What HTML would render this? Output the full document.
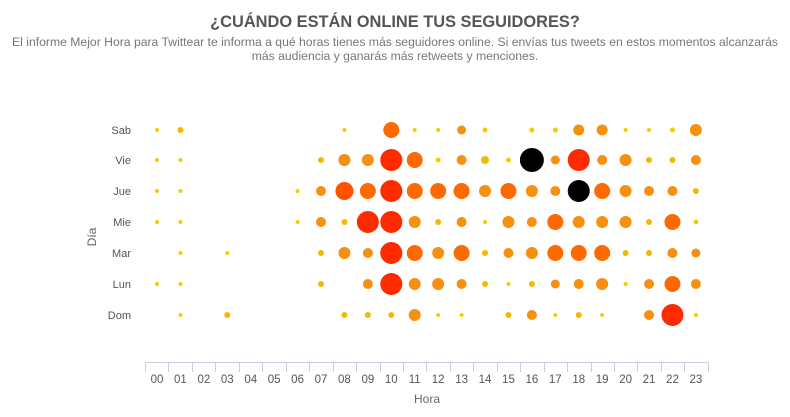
<!DOCTYPE html>
<html><head><meta charset="utf-8"><style>
body{margin:0;background:#fff;width:790px;height:412px;overflow:hidden;font-family:"Liberation Sans",sans-serif}
</style></head><body>
<svg width="790" height="412" xmlns="http://www.w3.org/2000/svg" font-family="Liberation Sans, sans-serif">
<text x="395" y="27" text-anchor="middle" font-size="16.4" font-weight="bold" fill="#555">¿CUÁNDO ESTÁN ONLINE TUS SEGUIDORES?</text>
<text x="395" y="46" text-anchor="middle" font-size="12.2" fill="#777">El informe Mejor Hora para Twittear te informa a qué horas tienes más seguidores online. Si envías tus tweets en estos momentos alcanzarás</text>
<text x="395" y="60" text-anchor="middle" font-size="12.2" fill="#777">más audiencia y ganarás más retweets y menciones.</text>
<g font-size="11" fill="#555" text-anchor="end">
<text x="131" y="134">Sab</text><text x="131" y="164">Vie</text><text x="131" y="195">Jue</text><text x="131" y="226">Mie</text><text x="131" y="257">Mar</text><text x="131" y="288">Lun</text><text x="131" y="319">Dom</text>
</g>
<text transform="translate(96,237) rotate(-90)" text-anchor="middle" font-size="12" fill="#666">Día</text>
<line x1="145" y1="362.5" x2="708" y2="362.5" stroke="#ccd" stroke-width="1"/>
<g id="ticks" stroke="#ccd"></g>
<g id="lab" font-size="11.5" fill="#555" text-anchor="middle"></g>
<text x="427" y="403" text-anchor="middle" font-size="12" fill="#666">Hora</text>
<g id="dots"></g>
</svg>
<script>
var ns="http://www.w3.org/2000/svg";
function X(h){return 157+h*23.43;}
var t=document.getElementById("ticks"),l=document.getElementById("lab");
for(var k=0;k<=24;k++){var ln=document.createElementNS(ns,"line");var x=Math.round(145+k*23.45)+0.5;ln.setAttribute("x1",x);ln.setAttribute("x2",x);ln.setAttribute("y1",362);ln.setAttribute("y2",372);t.appendChild(ln);}
for(var h=0;h<24;h++){var tx=document.createElementNS(ns,"text");tx.setAttribute("x",X(h));tx.setAttribute("y",383);tx.textContent=(h<10?"0":"")+h;l.appendChild(tx);}
var rows=[
[130,{0:2,1:3,8:2,10:8,11:2,12:2,13:4.5,14:2.5,16:2.5,17:2.5,18:5.5,19:5.5,20:2,21:2,22:2.5,23:6}],
[160,{0:2,1:2,7:3,8:6,9:6,10:11,11:8,12:2.5,13:5,14:4,15:2.5,16:12,17:4.5,18:11,19:5,20:6,21:3,22:3,23:5}],
[191,{0:2,1:2,6:2,7:5,8:9,9:8,10:11,11:8,12:8,13:8,14:6,15:8,16:6,17:5,18:11,19:8,20:6,21:5,22:5,23:3}],
[222,{0:2,1:2,6:2,7:5,8:3,9:11,10:11,11:6,12:3,13:5,14:2,15:6,16:5,17:8,18:6,19:6,20:6,21:3,22:8,23:2.5}],
[253,{1:2,3:2,7:3,8:6,9:5,10:11,11:8,12:6,13:8,14:3,15:5,16:6,17:8,18:8,19:8,20:3,21:3,22:5,23:4.5}],
[284,{0:2,1:2,7:3,9:5,10:11,11:6,12:6,13:5,14:3,15:2,16:3,17:4.5,18:5,19:6,20:2,21:5,22:8,23:5}],
[315,{1:2,3:3,8:3,9:3,10:3,11:6,12:2,13:2,15:3,16:5,17:2,18:3,19:2,21:5,22:11,23:2}]];
var black={"160_16":1,"191_18":1};
var d=document.getElementById("dots");
rows.forEach(function(r){for(var h in r[1]){var rad=r[1][h];var c;
if(black[r[0]+"_"+h])c="#000";else if(rad<=2.5)c="#f5cc00";else if(rad<=4)c="#f5b800";else if(rad<=6)c="#f7900e";else if(rad<=8)c="#ff6a00";else if(rad<=9)c="#ff5200";else c="#ff2a00";
var ci=document.createElementNS(ns,"circle");ci.setAttribute("cx",X(+h));ci.setAttribute("cy",r[0]);ci.setAttribute("r",rad);ci.setAttribute("fill",c);d.appendChild(ci);}});
</script>
</body></html>
